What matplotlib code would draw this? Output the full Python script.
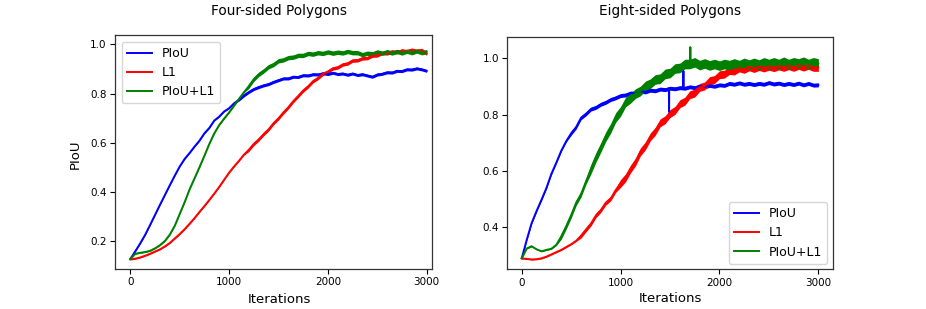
import numpy as np
import matplotlib
matplotlib.use("Agg")
import matplotlib.pyplot as plt

# ---------------- data ----------------
iterations = list(range(0, 3001, 50))
series_labels = ["PIoU", "L1", "PIoU+L1"]
titles = ["Four-sided Polygons", "Eight-sided Polygons"]

piou4 = [0.127, 0.158, 0.190, 0.225, 0.265, 0.306, 0.347, 0.387, 0.427, 0.466,
         0.503, 0.534, 0.558, 0.584, 0.608, 0.638, 0.660, 0.690, 0.706, 0.727,
         0.740, 0.760, 0.775, 0.792, 0.806, 0.818, 0.826, 0.833, 0.838, 0.847,
         0.854, 0.861, 0.861, 0.868, 0.867, 0.874, 0.873, 0.878, 0.877, 0.882,
         0.879, 0.884, 0.879, 0.881, 0.876, 0.881, 0.875, 0.878, 0.873, 0.868,
         0.877, 0.880, 0.886, 0.885, 0.892, 0.891, 0.898, 0.897, 0.902, 0.898,
         0.892]
l1_4 = [0.125, 0.128, 0.133, 0.140, 0.148, 0.157, 0.166, 0.178, 0.192, 0.210,
        0.228, 0.248, 0.270, 0.293, 0.318, 0.342, 0.367, 0.393, 0.420, 0.449,
        0.478, 0.503, 0.526, 0.551, 0.571, 0.595, 0.613, 0.635, 0.654, 0.679,
        0.699, 0.723, 0.744, 0.769, 0.790, 0.812, 0.829, 0.850, 0.863, 0.880,
        0.889, 0.902, 0.906, 0.918, 0.922, 0.934, 0.935, 0.943, 0.944, 0.954,
        0.955, 0.965, 0.963, 0.971, 0.968, 0.975, 0.972, 0.978, 0.973, 0.977,
        0.962]
piou_l1_4 = [0.127, 0.148, 0.152, 0.155, 0.160, 0.170, 0.183, 0.200, 0.226, 0.262,
             0.310, 0.358, 0.410, 0.455, 0.500, 0.547, 0.595, 0.638, 0.672, 0.698,
             0.723, 0.750, 0.778, 0.805, 0.830, 0.858, 0.878, 0.892, 0.909, 0.918,
             0.933, 0.937, 0.946, 0.948, 0.955, 0.955, 0.963, 0.960, 0.966, 0.963,
             0.969, 0.964, 0.968, 0.965, 0.971, 0.966, 0.966, 0.958, 0.964, 0.961,
             0.969, 0.964, 0.970, 0.965, 0.971, 0.965, 0.972, 0.966, 0.973, 0.966,
             0.970]

piou8 = [0.290, 0.355, 0.415, 0.458, 0.498, 0.540, 0.590, 0.630, 0.672, 0.706,
         0.734, 0.756, 0.789, 0.803, 0.820, 0.826, 0.837, 0.844, 0.854, 0.860,
         0.868, 0.870, 0.877, 0.876, 0.883, 0.881, 0.887, 0.885, 0.891, 0.889,
         0.894, 0.892, 0.896, 0.894, 0.899, 0.896, 0.902, 0.899, 0.904, 0.901,
         0.906, 0.904, 0.911, 0.908, 0.913, 0.908, 0.911, 0.907, 0.911, 0.908,
         0.914, 0.909, 0.912, 0.907, 0.911, 0.907, 0.912, 0.906, 0.911, 0.905,
         0.906]
piou8_spike_x = [1488, 1490, 1492, 1633, 1635, 1637]
piou8_spike_y = [0.893, 0.810, 0.893, 0.896, 0.955, 0.896]

l1_8 = [0.290, 0.288, 0.286, 0.287, 0.290, 0.296, 0.304, 0.312, 0.320, 0.330,
        0.340, 0.352, 0.370, 0.392, 0.413, 0.442, 0.461, 0.487, 0.502, 0.532,
        0.556, 0.576, 0.607, 0.632, 0.668, 0.689, 0.721, 0.741, 0.771, 0.782,
        0.804, 0.815, 0.839, 0.848, 0.871, 0.877, 0.897, 0.902, 0.921, 0.925,
        0.942, 0.944, 0.957, 0.955, 0.966, 0.961, 0.970, 0.964, 0.971, 0.966,
        0.972, 0.967, 0.973, 0.968, 0.974, 0.968, 0.975, 0.969, 0.975, 0.968,
        0.968]

piou_l1_8 = [0.290, 0.325, 0.333, 0.322, 0.315, 0.320, 0.324, 0.338, 0.368, 0.404,
             0.443, 0.487, 0.518, 0.563, 0.607, 0.648, 0.684, 0.722, 0.752, 0.790,
             0.812, 0.845, 0.858, 0.875, 0.884, 0.902, 0.910, 0.925, 0.928, 0.945,
             0.948, 0.964, 0.966, 0.980, 0.980, 0.986, 0.976, 0.982, 0.975, 0.980,
             0.974, 0.980, 0.976, 0.982, 0.976, 0.984, 0.978, 0.984, 0.978, 0.986,
             0.980, 0.986, 0.980, 0.988, 0.980, 0.986, 0.982, 0.988, 0.980, 0.986,
             0.982]
piou_l1_8_spike_x = [1703, 1705, 1707]
piou_l1_8_spike_y = [0.985, 1.040, 0.985]

# half-width of the visible noise band around each curve
band_piou4 = [0.002] * 22 + [0.006] * 39
band_l1_4 = [0.002] * 24 + [0.007] * 37
band_piou_l1_4 = [0.002] * 24 + [0.009] * 37
band_piou8 = [0.003] * 10 + [0.007] * 51
band_l1_8 = [0.002] * 12 + [0.008] * 8 + [0.014] * 41
band_piou_l1_8 = [0.002] * 8 + [0.010] * 6 + [0.017] * 47

x_ticks = [0, 1000, 2000, 3000]
y_ticks_4 = [0.2, 0.4, 0.6, 0.8, 1.0]
y_ticks_8 = [0.4, 0.6, 0.8, 1.0]


def merge(xs, ys, extra_x, extra_y):
    x = np.concatenate([np.asarray(xs, float), np.asarray(extra_x, float)])
    y = np.concatenate([np.asarray(ys, float), np.asarray(extra_y, float)])
    order = np.argsort(x, kind="stable")
    return x[order], y[order]


colors = ["blue", "red", "green"]

fig = plt.figure(figsize=(9.26, 3.09), dpi=100)
W, H = 926.0, 309.0
ax1 = fig.add_axes([115 / W, 1 - 269 / H, (432 - 115) / W, (269 - 35) / H])
ax2 = fig.add_axes([507.3 / W, 1 - 269.3 / H, (832.7 - 507.3) / W, (269.3 - 36.7) / H])

lw = 1.4
x = np.asarray(iterations, float)

# left panel
for ys, band, c, lab in zip([piou4, l1_4, piou_l1_4],
                            [band_piou4, band_l1_4, band_piou_l1_4],
                            colors, series_labels):
    y = np.asarray(ys, float)
    b = np.asarray(band, float)
    ax1.fill_between(x, y - b, y + b, color=c, lw=0)
    ax1.plot(x, y, color=c, lw=lw, label=lab)

# right panel
bx, by = merge(iterations, piou8, piou8_spike_x, piou8_spike_y)
gx, gy = merge(iterations, piou_l1_8, piou_l1_8_spike_x, piou_l1_8_spike_y)

y = np.asarray(piou8, float)
ax2.fill_between(x, y - np.asarray(band_piou8), y + np.asarray(band_piou8), color="blue", lw=0)
ax2.plot(bx, by, color="blue", lw=lw, label=series_labels[0])

y = np.asarray(l1_8, float)
ax2.fill_between(x, y - np.asarray(band_l1_8), y + np.asarray(band_l1_8), color="red", lw=0)
ax2.plot(x, y, color="red", lw=lw, label=series_labels[1])

y = np.asarray(piou_l1_8, float)
ax2.fill_between(x, y - np.asarray(band_piou_l1_8), y + np.asarray(band_piou_l1_8), color="green", lw=0)
ax2.plot(gx, gy, color="green", lw=lw, label=series_labels[2])

ax1.set_xlim(-155, 3054)
ax1.set_ylim(0.086, 1.038)
ax2.set_xlim(-146, 3145)
ax2.set_ylim(0.251, 1.077)

for ax, yt in [(ax1, y_ticks_4), (ax2, y_ticks_8)]:
    ax.set_xticks(x_ticks)
    ax.set_yticks(yt)
    ax.set_yticklabels([f"{v:.1f}" for v in yt])
    ax.tick_params(labelsize=7.5, length=3.5, width=0.8, pad=2.5)
    for s in ax.spines.values():
        s.set_linewidth(0.9)
        s.set_color("#333333")

ax1.legend(loc="upper left", fontsize=9, borderaxespad=0.55, handlelength=2.0)
ax2.legend(loc="lower right", fontsize=9, borderaxespad=0.45, handlelength=2.0)

ax1.set_ylabel("PIoU", fontsize=9.5)
ax1.yaxis.set_label_coords(-0.105, (269 - 154) / (269 - 35))

fig.text(279 / W, 1 - 303 / H, "Iterations", ha="center", va="baseline", fontsize=9.5)
fig.text(670.5 / W, 1 - 302 / H, "Iterations", ha="center", va="baseline", fontsize=9.5)

fig.text(279 / W, 1 - 15.5 / H, titles[0], ha="center", va="baseline", fontsize=9.8)
fig.text(670.3 / W, 1 - 15.5 / H, titles[1], ha="center", va="baseline", fontsize=9.8)

fig.savefig("out.png", dpi=100)
